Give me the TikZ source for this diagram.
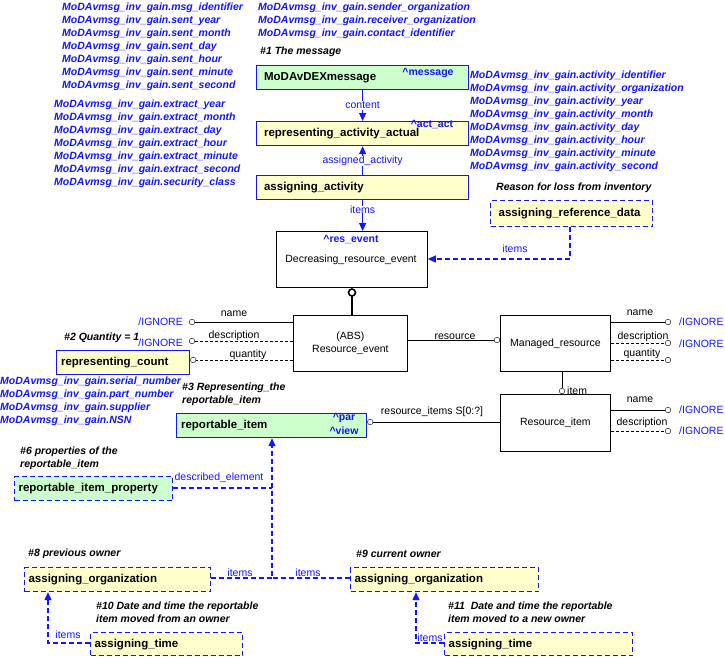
\documentclass[tikz,border=0pt]{standalone}
\usepackage{fontspec}
\setmainfont{Liberation Sans}
\usetikzlibrary{arrows.meta}
\definecolor{bl}{RGB}{20,20,255}
\definecolor{gr}{RGB}{204,255,204}
\definecolor{yl}{RGB}{255,255,204}
\begin{document}
\begin{tikzpicture}[x=1pt,y=-1pt,
 box/.style={draw=bl,line width=1.2pt,anchor=north west,inner sep=0pt,font=\bfseries\fontsize{11.5}{13}\selectfont},
 ent/.style={draw=black,line width=0.8pt,anchor=north west,inner sep=0pt,align=center,font=\fontsize{10.5}{13}\selectfont},
 bt/.style={text=bl,font=\bfseries\itshape\fontsize{10.5}{12}\selectfont,anchor=west,inner sep=0pt},
 nt/.style={text=black,font=\bfseries\itshape\fontsize{10.5}{13}\selectfont,anchor=west,inner sep=0pt,align=left},
 lb/.style={text=bl,font=\fontsize{10.5}{12}\selectfont,inner sep=1pt},
 kl/.style={text=black,font=\fontsize{10.5}{12}\selectfont,inner sep=1pt},
 tag/.style={text=bl,font=\bfseries\fontsize{10.5}{12}\selectfont,inner sep=0pt},
 ar/.style={draw=bl,line width=1.2pt,-{Triangle[length=8pt,width=7pt]}},
 dar/.style={draw=bl,line width=1.2pt,dash pattern=on 5pt off 3pt,-{Triangle[length=8pt,width=7pt]}},
 oc/.style={-{Circle[open,length=6pt,width=6pt]}},
 dsh/.style={densely dashed}]
\useasboundingbox (0,0) rectangle (725,657);
% boxes
\node[box,fill=gr,minimum width=212pt,minimum height=24pt,text width=205pt,align=left] (msg) at (256,65) {\hspace{4pt}MoDAvDEXmessage};
\node[box,fill=yl,minimum width=212pt,minimum height=24pt,text width=205pt,align=left] (raa) at (256,121) {\hspace{4pt}representing\_activity\_actual};
\node[box,fill=yl,minimum width=212pt,minimum height=24pt,text width=205pt,align=left] (aa) at (256,175) {\hspace{4pt}assigning\_activity};
\node[ent,minimum width=151pt,minimum height=56pt] (dre) at (276,231) {};
\node[kl] at (351,260) {Decreasing\_resource\_event};
\node[tag] at (351,240) {\^{}res\_event};
\node[ent,minimum width=114pt,minimum height=56pt] (re) at (293,315) {(ABS)\\Resource\_event};
\node[ent,minimum width=110pt,minimum height=56pt] (mr) at (500,315) {Managed\_resource};
\node[ent,minimum width=110pt,minimum height=57pt] (ri) at (500,394) {Resource\_item};
\node[box,fill=yl,minimum width=133pt,minimum height=24pt,text width=128pt,align=left] (rc) at (56,350) {\hspace{2pt}representing\_count};
\node[box,fill=gr,minimum width=190pt,minimum height=24pt,text width=185pt,align=left] (rit) at (176,413) {\hspace{2pt}reportable\_item};
\node[box,fill=gr,dash pattern=on 5pt off 3pt,minimum width=158pt,minimum height=24pt,text width=154pt,align=left] (rip) at (14,476) {\hspace{2pt}reportable\_item\_property};
\node[box,fill=yl,dash pattern=on 5pt off 3pt,minimum width=162pt,minimum height=26pt,text width=158pt,align=left] (ard) at (490,200) {\hspace{6pt}assigning\_reference\_data};
\node[box,fill=yl,dash pattern=on 5pt off 3pt,minimum width=186pt,minimum height=24pt,text width=182pt,align=left] (ao1) at (24,567) {\hspace{2pt}assigning\_organization};
\node[box,fill=yl,dash pattern=on 5pt off 3pt,minimum width=188pt,minimum height=24pt,text width=184pt,align=left] (ao2) at (350,567) {\hspace{2pt}assigning\_organization};
\node[box,fill=yl,dash pattern=on 5pt off 3pt,minimum width=152pt,minimum height=23pt,text width=148pt,align=left] (at1) at (90,632) {\hspace{2pt}assigning\_time};
\node[box,fill=yl,dash pattern=on 5pt off 3pt,minimum width=188pt,minimum height=23pt,text width=184pt,align=left] (at2) at (444,632) {\hspace{2pt}assigning\_time};
\node[tag] at (428,73) {\^{}message};
\node[tag] at (432,125) {\^{}act\_act};
\node[tag] at (344,418) {\^{}par};
\node[tag] at (344,431) {\^{}view};
% main arrows
\draw[ar] (msg.south) -- (raa.north) node[lb,midway,fill=white]{content};
\draw[ar] (aa.north) -- (raa.south) node[lb,midway,fill=white,inner sep=0pt]{assigned\_activity};
\draw[ar] (aa.south) -- (dre.north-|aa.south) node[lb,pos=0.3,fill=white,inner sep=0pt]{items};
\coordinate (c1) at (570,259);
\draw[dar] (ard.south-|c1) -- (c1) -- (c1-|dre.east);
\node[lb] at (515,249) {items};
% resource event supertype
\coordinate (s1) at (352,287);
\draw[line width=2pt] (re.north-|s1) -- (352,296);
\draw[line width=1.6pt] (352,292.5) circle (3.5pt);
% attributes of Resource_event
\coordinate (i1) at (189,322); \coordinate (i2) at (189,341);
\draw[oc] (re.west|-i1) -- (i1); \node[kl] at (234,314) {name};
\draw[oc,dsh] (re.west|-i2) -- (i2); \node[kl] at (234,336) {description};
\coordinate (i3) at (189,360);
\draw[oc,dsh] (re.west|-i3) -- (rc.east|-i3); \node[kl] at (248,355) {quantity};
\node[lb,anchor=east] at (184,322) {/IGNORE};
\node[lb,anchor=east] at (184,343) {/IGNORE};
\coordinate (r1) at (455,340);
\draw[oc] (re.east|-r1) -- (mr.west|-r1); \node[kl] at (455,340) [above=-1pt] {resource};
% Managed resource attrs
\coordinate (m1) at (671,322); \coordinate (m2) at (671,343); \coordinate (m3) at (671,360);
\draw[oc] (mr.east|-m1) -- (m1); \node[kl] at (640,313) {name};
\draw[oc,dsh] (mr.east|-m2) -- (m2); \node[kl] at (643,337) {description};
\draw[oc,dsh] (mr.east|-m3) -- (m3); \node[kl] at (642,354) {quantity};
\node[lb,anchor=west] at (678,322) {/IGNORE};
\node[lb,anchor=west] at (678,344) {/IGNORE};
\coordinate (it) at (562,394);
\draw[oc] (mr.south-|it) -- (it); \node[kl,anchor=west] at (566,391) {item};
% Resource_item
\coordinate (p1) at (366,422);
\draw[oc] (ri.west|-p1) -- (rit.east|-p1); \node[kl] at (432,412) {resource\_items S[0:?]};
\coordinate (n1) at (671,410); \coordinate (n2) at (671,431);
\draw[oc] (ri.east|-n1) -- (n1); \node[kl] at (640,400) {name};
\draw[oc,dsh] (ri.east|-n2) -- (n2); \node[kl] at (642,423) {description};
\node[lb,anchor=west] at (678,410) {/IGNORE};
\node[lb,anchor=west] at (678,431) {/IGNORE};
% reportable item links
\coordinate (v) at (272,578);
\draw[dar] (ao2.west|-v) -- (v) -- (rit.south-|v);
\draw[draw=bl,line width=1.2pt,dash pattern=on 5pt off 3pt] (ao1.east|-v) -- (v);
\draw[draw=bl,line width=1.2pt,dash pattern=on 5pt off 3pt] (rip.east|-c1) ++(0,229) -- (272,488);
\node[lb] at (240,573) {items};
\node[lb] at (308,573) {items};
\node[lb] at (219,478) {described\_element};
\coordinate (t1) at (48,643); \coordinate (t2) at (416,643);
\draw[dar] (at1.west|-t1) -- (t1) -- (ao1.south-|t1);
\draw[dar] (at2.west|-t2) -- (t2) -- (ao2.south-|t2);
\node[lb] at (68,635) {items};
\node[lb] at (430,638) {items};
% blue attribute lists
\foreach \t [count=\i from 0] in {msg\_identifier,sent\_year,sent\_month,sent\_day,sent\_hour,sent\_minute,sent\_second}
  \node[bt] at (62,8+13*\i) {MoDAvmsg\_inv\_gain.\t};
\foreach \t [count=\i from 0] in {extract\_year,extract\_month,extract\_day,extract\_hour,extract\_minute,extract\_second,security\_class}
  \node[bt] at (54,105+13*\i) {MoDAvmsg\_inv\_gain.\t};
\foreach \t [count=\i from 0] in {sender\_organization,receiver\_organization,contact\_identifier}
  \node[bt] at (258,8+13*\i) {MoDAvmsg\_inv\_gain.\t};
\foreach \t [count=\i from 0] in {activity\_identifier,activity\_organization,activity\_year,activity\_month,activity\_day,activity\_hour,activity\_minute,activity\_second}
  \node[bt] at (470,76+13*\i) {MoDAvmsg\_inv\_gain.\t};
\foreach \t [count=\i from 0] in {serial\_number,part\_number,supplier,NSN}
  \node[bt] at (0,382+13*\i) {MoDAvmsg\_inv\_gain.\t};
% notes
\node[nt] at (260,52) {\#1 The message};
\node[nt] at (496,188) {Reason for loss from inventory};
\node[nt] at (64,338) {\#2 Quantity = 1};
\node[nt] at (182,394) {\#3 Representing\_the\\reportable\_item};
\node[nt] at (20,458) {\#6 properties of the\\reportable\_item};
\node[nt] at (28,554) {\#8 previous owner};
\node[nt] at (356,554) {\#9 current owner};
\node[nt] at (96,612) {\#10 Date and time the reportable\\item moved from an owner};
\node[nt] at (448,612) {\#11\ \ Date and time the reportable\\item moved to a new owner};
\end{tikzpicture}
\end{document}
